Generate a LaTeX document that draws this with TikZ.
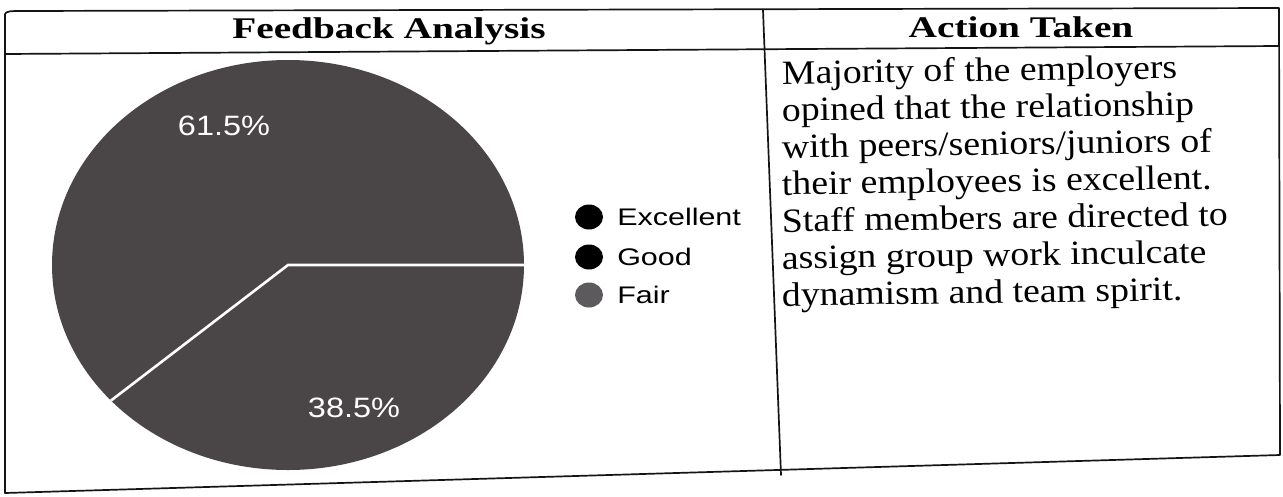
\documentclass[tikz,border=0pt]{standalone}
\usepackage{fontspec}
\setmainfont{Liberation Serif}
\newfontfamily\arialf{Liberation Sans}
\usetikzlibrary{calc}
\definecolor{piecol}{RGB}{74,70,72}
\definecolor{faircol}{RGB}{92,90,92}
\definecolor{rulecol}{RGB}{20,20,20}
\tikzset{
  rule/.style={draw=rulecol, line width=1.7pt, line cap=round, line join=round},
  hdr/.style={font=\fontsize{30}{34}\selectfont\bfseries, inner sep=0pt, anchor=base, xscale=1.31},
  body/.style={font=\fontsize{34}{37}\selectfont, inner sep=0pt, anchor=base west, xscale=1.11, rotate=0.9},
  pct/.style={font=\arialf\fontsize{28}{30}\selectfont, text=white, inner sep=0pt, xscale=1.16},
  legtext/.style={font=\arialf\fontsize{24}{28}\selectfont, inner sep=0pt, anchor=west, xscale=1.27},
  bullet/.style={x radius=14, y radius=12.5},
  sep/.style={draw=white, line width=2.6pt}
}
\begin{document}
\begin{tikzpicture}[x=1pt,y=-1pt]
\fill[white] (0,0) rectangle (1283,496);
\useasboundingbox (0,0) rectangle (1283,496);
% table corners
\coordinate (tl) at (5,14);
\coordinate (tr) at (1279,8);
\coordinate (hl) at (5,54);
\coordinate (hr) at (1279,46);
\coordinate (bl) at (5,493);
\coordinate (br) at (1280,455);
\coordinate (dt) at (763,10);
\coordinate (db) at (781,475);
\draw[rule] (bl) -- (tl) .. controls (6,11) and (12,11) .. (20,11) -- (tr) -- (br) -- cycle;
\draw[rule] (hl) -- (hr);
\draw[rule] (dt) -- (db);
% headers
\node[hdr] (h1) at (389,38) {Feedback Analysis};
\node[hdr] (h2) at (1021,37) {Action Taken};
% pie
\coordinate (pc) at (288,265);
\fill[piecol] (pc) ellipse [x radius=236, y radius=205];
\coordinate (pe) at ($(pc)+(236,0)$);
\coordinate (pw) at ($(pc)+({236*cos(138.6)},{205*sin(138.6)})$);
\draw[sep] (pe) -- (pc) -- (pw);
\node[pct] (p61) at (224,126) {61.5\%};
\node[pct] (p38) at (354,408) {38.5\%};
% legend
\fill[black] (589,217) ellipse [bullet];
\fill[black] (589,257) ellipse [bullet];
\fill[faircol] (589,295) ellipse [bullet];
\node[legtext] (lex) at (617,217) {Excellent};
\node[legtext] (lgo) at (617,257) {Good};
\node[legtext] (lfa) at (617,295) {Fair};
% action text
\node[body] (t1) at (782,84) {Majority of the employers};
\node[body] (t2) at (782,121) {opined that the relationship};
\node[body] (t3) at (782,158) {with peers/seniors/juniors of};
\node[body] (t4) at (782,195) {their employees is excellent.};
\node[body] (t5) at (782,232) {Staff members are directed to};
\node[body] (t6) at (782,269) {assign group work inculcate};
\node[body] (t7) at (782,306) {dynamism and team spirit.};
\end{tikzpicture}
\end{document}
